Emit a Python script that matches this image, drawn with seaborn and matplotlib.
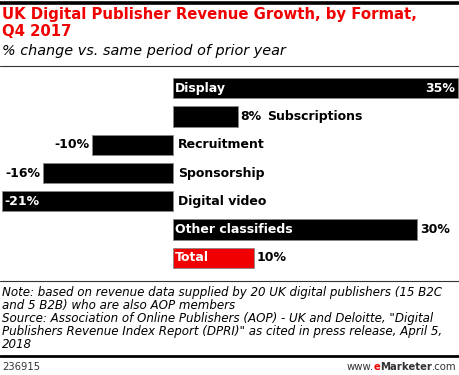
import matplotlib
matplotlib.use('Agg')
import matplotlib.pyplot as plt
import seaborn as sns
import pandas as pd

categories = ['Display', 'Subscriptions', 'Recruitment', 'Sponsorship',
              'Digital video', 'Other classifieds', 'Total']
growth = [35, 8, -10, -16, -21, 30, 10]
value_labels = ['35%', '8%', '-10%', '-16%', '-21%', '30%', '10%']

title = 'UK Digital Publisher Revenue Growth, by Format,\nQ4 2017'
subtitle = '% change vs. same period of prior year'
note = ('Note: based on revenue data supplied by 20 UK digital publishers (15 B2C\n'
        'and 5 B2B) who are also AOP members\n'
        'Source: Association of Online Publishers (AOP) - UK and Deloitte, "Digital\n'
        'Publishers Revenue Index Report (DPRI)" as cited in press release, April 5,\n'
        '2018')
chart_id = '236915'

df = pd.DataFrame({'category': categories, 'growth': growth})
RED = '#f00000'
colors = ['black'] * 6 + [RED]

sns.set_style('white')
plt.rcParams['font.family'] = ['DejaVu Sans']

W, H = 460, 375
fig = plt.figure(figsize=(W / 100, H / 100), dpi=100)

# axes placed so that zero sits near x=173px
ax = fig.add_axes([0, 1 - 272 / H, 1, 198 / H])
sns.barplot(data=df, x='growth', y='category', hue='category', palette=colors,
            legend=False, orient='h', width=0.72, edgecolor='#888888',
            linewidth=0.6, saturation=1, ax=ax)
ax.set_xlim(-21.25, 35.25)
ax.set_ylim(6.5, -0.5)
ax.axis('off')

FS = 9
inside_cat = {'Display', 'Other classifieds', 'Total'}
for i, (cat, v, lab) in enumerate(zip(categories, growth, value_labels)):
    if v >= 0:
        if cat in inside_cat:
            ax.text(0.25, i, cat, color='white', fontsize=FS, fontweight='bold',
                    va='center', ha='left')
            if cat == 'Display':
                ax.text(v - 0.3, i, lab, color='white', fontsize=FS,
                        fontweight='bold', va='center', ha='right')
            else:
                ax.text(v + 0.3, i, lab, color='black', fontsize=FS,
                        fontweight='bold', va='center', ha='left')
        else:
            ax.text(v + 0.3, i, lab, color='black', fontsize=FS,
                    fontweight='bold', va='center', ha='left')
            ax.text(v + 3.6, i, cat, color='black', fontsize=FS,
                    fontweight='bold', va='center', ha='left')
    else:
        ax.text(0.6, i, cat, color='black', fontsize=FS, fontweight='bold',
                va='center', ha='left')
        if v <= -20:
            ax.text(v + 0.3, i, lab, color='white', fontsize=FS,
                    fontweight='bold', va='center', ha='left')
        else:
            ax.text(v - 0.3, i, lab, color='black', fontsize=FS,
                    fontweight='bold', va='center', ha='right')

# header
fig.add_artist(plt.Line2D([0, 1], [1 - 3 / H, 1 - 3 / H], color='black', lw=2.6))
fig.text(2 / W, 1 - 7 / H, title, color=RED, fontsize=10.7, fontweight='bold',
         va='top', ha='left', linespacing=1.2)
fig.text(2 / W, 1 - 51 / H, subtitle, color='black', fontsize=10.4, style='italic',
         va='center', ha='left')
fig.add_artist(plt.Line2D([0, 1], [1 - 66 / H, 1 - 66 / H], color='#333333', lw=0.8))

# footer
fig.add_artist(plt.Line2D([0, 1], [1 - 281 / H, 1 - 281 / H], color='#333333', lw=0.8))
fig.text(2 / W, 1 - 286 / H, note, color='black', fontsize=8.6, style='italic',
         va='top', ha='left', linespacing=1.0)
fig.add_artist(plt.Line2D([0, 1], [1 - 356 / H, 1 - 356 / H], color='black', lw=2.0))
fig.text(2 / W, 1 - 367 / H, chart_id, color='#333333', fontsize=7.2,
         va='center', ha='left')

# www.eMarketer.com, built right to left
renderer = fig.canvas.get_renderer()
parts = [('.com', '#333333', 'normal'), ('Marketer', '#333333', 'bold'),
         ('e', RED, 'bold'), ('www.', '#333333', 'normal')]
x = (W - 3) / W
for txt, col, wt in parts:
    t = fig.text(x, 1 - 367 / H, txt, color=col, fontsize=7.3, fontweight=wt,
                 va='center', ha='right')
    bb = t.get_window_extent(renderer)
    x -= bb.width / W

fig.savefig('out.png', dpi=100)
